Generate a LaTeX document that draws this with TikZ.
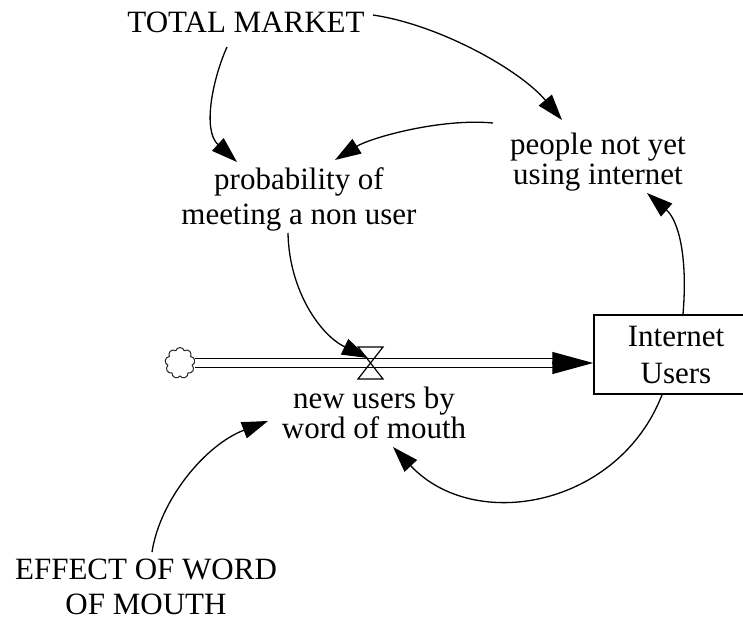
\documentclass[tikz,border=0pt]{standalone}
\usepackage{fontspec}
\setmainfont{Liberation Serif}
\usetikzlibrary{arrows.meta,shapes.symbols}
\begin{document}
\begin{tikzpicture}[x=1pt,y=-1pt,
  lbl/.style={inner sep=0pt, align=center},
  conn/.style={line width=1.3pt, -{Triangle[length=26pt,width=17pt]}},
  pipe/.style={double=white, double distance=7.5pt, line width=1.5pt},
  flowhead/.style={line width=1.2pt, -{Triangle[length=41pt,width=22pt]}},
  stockbox/.style={draw, line width=1.5pt, minimum width=164pt, minimum height=79pt, inner sep=0pt, align=center, font=\fontsize{31}{37}\selectfont},
  valvestyle/.style={draw, line width=1.2pt, line join=miter},
  cloudstyle/.style={cloud, cloud puffs=9, draw=black!85, line width=1pt, minimum width=30pt, minimum height=31pt, inner sep=0pt}
]
\useasboundingbox (0,0) rectangle (743,618);

% nodes
\node[lbl, anchor=base, font=\fontsize{31}{35}\selectfont] (tm) at (246,33) {TOTAL MARKET};
\node[lbl, anchor=north, font=\fontsize{31}{30}\selectfont] (people) at (598,132.8) {people not yet\\using internet};
\node[lbl, anchor=north, font=\fontsize{31}{35.5}\selectfont] (prob) at (299,167) {probability of\\meeting a non user};
\node[lbl, anchor=north, font=\fontsize{31}{29.5}\selectfont] (newusers) at (374,387) {new users by\\word of mouth};
\node[lbl, anchor=north, font=\fontsize{31}{34.5}\selectfont] (effect) at (146,559) {EFFECT OF WORD\\OF MOUTH};
\node[stockbox] (iu) at (676,354.5) {Internet\\Users};
\node[cloudstyle] (cloud) at (180,363) {};
\coordinate (valve) at (370.5,363);
\coordinate (flowend) at (cloud.east -| iu.west);

% flow pipe
\draw[pipe] (cloud.east) -- ([xshift=-40pt]flowend);
\draw[flowhead] ([xshift=-41pt]flowend) -- (flowend);
% valve
\draw[valvestyle] ([shift={(-12.5,-16)}]valve) -- ++(25,0) -- ++(-25,32) -- ++(25,0) -- cycle;

% connectors
\draw[conn] ([shift={(-19,14)}]tm.base) .. controls (213,78) and (202,130) .. ([shift={(-62,-5)}]prob.north);
\draw[conn] ([shift={(127,-18)}]tm.base) .. controls (440,25) and (520,70) .. ([shift={(-36,-12.8)}]people.north);
\draw[conn] ([shift={(-105,-9.8)}]people.north) .. controls (440,118) and (370,138) .. ([shift={(36,-7)}]prob.north);
\draw[conn] ([shift={(-11,66)}]prob.north) .. controls (289,290) and (320,335) .. ([shift={(-2.5,-5)}]valve);
\draw[conn] ([shift={(7,0)}]iu.north) .. controls (688,255) and (678,220) .. ([shift={(49,60.2)}]people.north);
\draw[conn] ([shift={(-14,0)}]iu.south) .. controls (619,506) and (475,534) .. ([shift={(19,60)}]newusers.north);
\draw[conn] ([shift={(6,-7)}]effect.north) .. controls (160,500) and (205,445) .. ([shift={(-106,34)}]newusers.north);
\end{tikzpicture}
\end{document}
